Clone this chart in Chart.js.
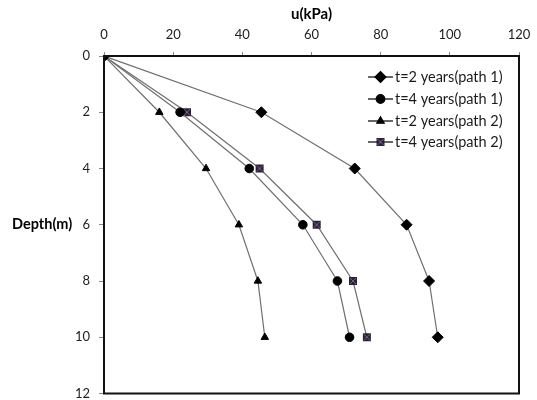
<!DOCTYPE html>
<html>
<head>
<meta charset="utf-8">
<script src="https://cdn.jsdelivr.net/npm/chart.js@4/dist/chart.umd.min.js"></script>
<style>
  html, body { margin: 0; padding: 0; background: #fff; }
  #wrap { width: 537px; height: 400px; }
</style>
</head>
<body>
<div id="wrap"><canvas id="c" width="537" height="400"></canvas></div>
<script>
// ---- data ----
const depths = [0, 2, 4, 6, 8, 10];
const uT2Path1 = [0, 45.5, 72.5, 87.5, 94, 96.5];
const uT4Path1 = [0, 22, 42, 57.5, 67.5, 71];
const uT2Path2 = [0, 16, 29.5, 39, 44.5, 46.5];
const uT4Path2 = [0, 24, 45, 61.5, 72, 76];
const seriesLabels = ['t=2 years(path 1)', 't=4 years(path 1)', 't=2 years(path 2)', 't=4 years(path 2)'];
const xTicks = [0, 20, 40, 60, 80, 100, 120];
const yTicks = [0, 2, 4, 6, 8, 10, 12];

const FONT = 'Lato, "Open Sans", sans-serif';

function squareX() {
  const s = 10;
  const cv = document.createElement('canvas');
  cv.width = s; cv.height = s;
  const g = cv.getContext('2d');
  g.fillStyle = '#2a2230';
  g.fillRect(1, 1, 8, 8);
  g.strokeStyle = '#7a5c9c';
  g.lineWidth = 1;
  g.beginPath();
  g.moveTo(2, 2); g.lineTo(8, 8);
  g.moveTo(8, 2); g.lineTo(2, 8);
  g.stroke();
  return cv;
}
const sqMarker = squareX();

function mk(vals) { return vals.map((v, i) => ({ x: v, y: depths[i] })); }

const lineColor = '#707070';
const datasets = [
  { label: seriesLabels[0], data: mk(uT2Path1), pointStyle: 'rectRot', pointRadius: 5.5 },
  { label: seriesLabels[1], data: mk(uT4Path1), pointStyle: 'circle', pointRadius: 4.3 },
  { label: seriesLabels[2], data: mk(uT2Path2), pointStyle: 'triangle', pointRadius: 4.3 },
  { label: seriesLabels[3], data: mk(uT4Path2), pointStyle: sqMarker, pointRadius: 5 }
].map(d => Object.assign({
  showLine: true,
  borderColor: lineColor,
  borderWidth: 1.2,
  backgroundColor: '#000',
  pointBackgroundColor: '#000',
  pointBorderColor: '#000',
  pointBorderWidth: 1,
  pointHoverRadius: d.pointRadius,
  fill: false,
  tension: 0
}, d));

function zeroPad(s) { s.paddingTop = 0; s.paddingBottom = 0; s.paddingLeft = 0; s.paddingRight = 0; }

const extras = {
  id: 'extras',
  afterDatasetsDraw(chart) {
    const { ctx, chartArea: a } = chart;
    ctx.save();
    ctx.strokeStyle = '#111';
    ctx.lineWidth = 2;
    ctx.strokeRect(a.left, a.top, a.right - a.left, a.bottom - a.top);
    ctx.fillStyle = '#000';
    ctx.font = 'bold 14.5px ' + FONT;
    ctx.textAlign = 'left';
    ctx.textBaseline = 'middle';
    ctx.fillText('Depth(m)', 12, chart.scales.y.getPixelForValue(6));
    const ys = [77, 99, 121, 142];
    const x0 = 368, x1 = 393, xm = 380.5;
    ctx.font = '14.5px ' + FONT;
    chart.data.datasets.forEach((ds, i) => {
      const y = ys[i];
      ctx.strokeStyle = '#000';
      ctx.lineWidth = 1.2;
      ctx.beginPath(); ctx.moveTo(x0, y); ctx.lineTo(x1, y); ctx.stroke();
      ctx.fillStyle = '#000';
      Chart.helpers.drawPoint(ctx, {
        pointStyle: ds.pointStyle,
        radius: ds.pointRadius,
        borderWidth: 1,
        rotation: 0
      }, xm, y);
      ctx.fillStyle = '#1a1a1a';
      ctx.fillText(ds.label, 395, y);
    });
    ctx.restore();
  }
};

new Chart(document.getElementById('c'), {
  type: 'scatter',
  data: { datasets },
  options: {
    responsive: false,
    animation: false,
    devicePixelRatio: 1,
    layout: { padding: { left: 0, right: 18, top: 0, bottom: 0 } },
    plugins: {
      legend: { display: false },
      tooltip: { enabled: false }
    },
    scales: {
      x: {
        type: 'linear',
        position: 'top',
        min: 0, max: 120,
        afterBuildTicks: s => { s.ticks = xTicks.map(v => ({ value: v })); },
        ticks: { color: '#222', font: { family: FONT, size: 13 }, padding: 9 },
        grid: { drawOnChartArea: false, drawTicks: true, tickLength: 4, color: '#888' },
        border: { display: true, color: '#111', width: 2 },
        title: { display: true, text: 'u(kPa)', color: '#000', font: { family: FONT, size: 15, weight: 'bold' }, padding: { top: 5, bottom: 2 } },
        afterFit: s => { s.height = 56; zeroPad(s); }
      },
      y: {
        type: 'linear',
        reverse: true,
        min: 0, max: 12,
        afterBuildTicks: s => { s.ticks = yTicks.map(v => ({ value: v })); },
        ticks: { color: '#222', font: { family: FONT, size: 13 }, padding: 9 },
        grid: { drawOnChartArea: false, drawTicks: true, tickLength: 5, color: '#888' },
        border: { display: true, color: '#111', width: 2 },
        afterFit: s => { s.width = 104; zeroPad(s); }
      }
    }
  },
  plugins: [extras]
});
</script>
</body>
</html>
